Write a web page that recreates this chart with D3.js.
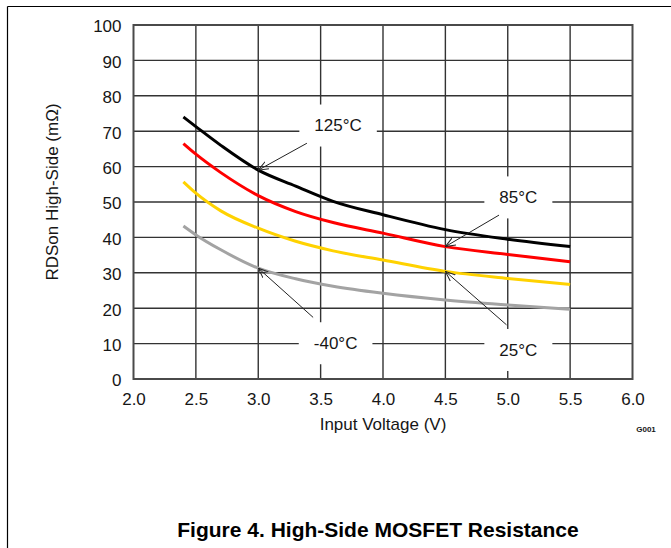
<!DOCTYPE html>
<html lang="en">
<head>
<meta charset="UTF-8">
<title>High-Side MOSFET Resistance</title>
<script src="https://cdn.jsdelivr.net/npm/d3@7"></script>
<style>
    body {
        margin: 0;
        padding: 0;
        background: #fff;
        font-family: "Liberation Sans", Arial, sans-serif;
    }
    svg text { fill: #161616; }
</style>
</head>
<body>
<div id="chart"></div>
<script>
// data
var voltage125 = [2.4, 2.5, 2.7, 3.0, 3.3, 3.6, 4.0, 4.5, 5.0, 5.5];
var rds125     = [74.0, 71.3, 66.0, 59.0, 54.5, 50.2, 46.4, 42.2, 39.5, 37.4];

var voltage85 = [2.4, 2.5, 2.7, 3.0, 3.3, 3.6, 4.0, 4.5, 5.0, 5.5];
var rds85     = [66.5, 63.5, 58.3, 51.8, 47.3, 44.2, 41.2, 37.4, 35.2, 33.1];

var voltage25 = [2.4, 2.5, 2.7, 3.0, 3.3, 3.6, 4.0, 4.5, 5.0, 5.5];
var rds25     = [55.7, 52.5, 47.5, 42.6, 38.9, 36.2, 33.6, 30.4, 28.4, 26.7];

var voltageM40 = [2.4, 2.5, 2.7, 3.0, 3.3, 3.6, 4.0, 4.5, 5.0, 5.5];
var rdsM40     = [43.2, 40.7, 36.5, 31.3, 28.3, 26.2, 24.2, 22.3, 20.9, 19.7];

var xTicks = [2.0, 2.5, 3.0, 3.5, 4.0, 4.5, 5.0, 5.5, 6.0];
var yTicks = [0, 10, 20, 30, 40, 50, 60, 70, 80, 90, 100];

// annotation labels: text position, arrow start, arrow end (data units)
var noteLabels = ["125°C", "85°C", "25°C", "-40°C"];
var noteText   = [[3.64, 71.6], [5.085, 51.3], [5.085, 8.2], [3.62, 10.1]];
var noteFrom   = [[3.39, 66.6], [4.93, 46.3], [4.99, 15.3], [3.44, 17.4]];
var noteTo     = [[3.0, 59.0], [4.5, 37.4], [4.5, 30.4], [3.0, 31.3]];

var series = [
    { name: "125", x: voltage125, y: rds125, color: "#000000" },
    { name: "85",  x: voltage85,  y: rds85,  color: "#ff0000" },
    { name: "25",  x: voltage25,  y: rds25,  color: "#ffd200" },
    { name: "-40", x: voltageM40, y: rdsM40, color: "#a3a3a3" }
];

var W = 671, H = 548;
var svg = d3.select("#chart").append("svg")
    .attr("width", W)
    .attr("height", H);

// page frame (top and left rules)
svg.append("line").attr("x1", 7.5).attr("x2", W).attr("y1", 6.5).attr("y2", 6.5)
    .attr("stroke", "#000").attr("stroke-width", 1.2);
svg.append("line").attr("x1", 7.5).attr("x2", 7.5).attr("y1", 6.5).attr("y2", H)
    .attr("stroke", "#000").attr("stroke-width", 1.2);

var x = d3.scaleLinear().domain([2, 6]).range([133.5, 632.5]);
var y = d3.scaleLinear().domain([0, 100]).range([379, 25]);

// grid
svg.append("g").selectAll("line").data(xTicks.slice(1, -1)).enter().append("line")
    .attr("x1", d => x(d)).attr("x2", d => x(d))
    .attr("y1", y(100)).attr("y2", y(0))
    .attr("stroke", "#333").attr("stroke-width", 1.4);
svg.append("g").selectAll("line").data(yTicks.slice(1, -1)).enter().append("line")
    .attr("x1", x(2)).attr("x2", x(6))
    .attr("y1", d => y(d)).attr("y2", d => y(d))
    .attr("stroke", "#333").attr("stroke-width", 1.4);

// axes (labels only)
var xAxis = svg.append("g")
    .attr("transform", "translate(0," + y(0) + ")")
    .call(d3.axisBottom(x).tickValues(xTicks).tickSize(0).tickPadding(14).tickFormat(d3.format(".1f")));
var yAxis = svg.append("g")
    .attr("transform", "translate(" + x(2) + ",0)")
    .call(d3.axisLeft(y).tickValues(yTicks).tickSize(0).tickPadding(12));
[xAxis, yAxis].forEach(function(a) {
    a.select(".domain").remove();
    a.selectAll("text")
        .attr("font-family", "'Liberation Sans', Arial, sans-serif")
        .attr("font-size", "17px")
        .attr("fill", "#161616");
});
yAxis.selectAll("text").attr("dy", "0.4em");

// annotation boxes (white patches that cut the grid)
var notes = noteLabels.map(function(t, i) {
    return { label: t, tx: noteText[i][0], ty: noteText[i][1],
             fx: noteFrom[i][0], fy: noteFrom[i][1], ex: noteTo[i][0], ey: noteTo[i][1] };
});
var noteG = svg.append("g");
notes.forEach(function(n) {
    var t = noteG.append("text")
        .attr("x", x(n.tx)).attr("y", y(n.ty))
        .attr("dy", "0.35em")
        .attr("text-anchor", "middle")
        .attr("font-size", "17px")
        .text(n.label);
    var b = t.node().getBBox();
    noteG.insert("rect", "text")
        .attr("x", b.x - 15).attr("width", b.width + 30)
        .attr("y", y(n.ty) - 21).attr("height", 42)
        .attr("fill", "#fff");
});

// plot border
svg.append("rect")
    .attr("x", x(2)).attr("y", y(100))
    .attr("width", x(6) - x(2)).attr("height", y(0) - y(100))
    .attr("fill", "none").attr("stroke", "#4a4a4a").attr("stroke-width", 2);

// curves
var line = d3.line()
    .x(d => x(d[0]))
    .y(d => y(d[1]))
    .curve(d3.curveMonotoneX);

svg.append("g").selectAll("path").data(series).enter().append("path")
    .attr("d", s => line(s.x.map((v, i) => [v, s.y[i]])))
    .attr("fill", "none")
    .attr("stroke", s => s.color)
    .attr("stroke-width", 3)
    .attr("stroke-linejoin", "round");

// arrows
svg.append("defs").append("marker")
    .attr("id", "arrow")
    .attr("viewBox", "0 0 10 10")
    .attr("refX", 10).attr("refY", 5)
    .attr("markerWidth", 10).attr("markerHeight", 10)
    .attr("markerUnits", "userSpaceOnUse")
    .attr("orient", "auto")
    .append("path")
    .attr("d", "M0,1 L10,5 L0,9")
    .attr("fill", "none")
    .attr("stroke", "#222")
    .attr("stroke-width", 1);

svg.append("g").selectAll("line").data(notes).enter().append("line")
    .attr("x1", d => x(d.fx)).attr("y1", d => y(d.fy))
    .attr("x2", d => x(d.ex)).attr("y2", d => y(d.ey))
    .attr("stroke", "#222")
    .attr("stroke-width", 1)
    .attr("marker-end", "url(#arrow)");

// axis titles
svg.append("text")
    .attr("x", 383).attr("y", 430)
    .attr("text-anchor", "middle")
    .attr("font-size", "17px")
    .text("Input Voltage (V)");

svg.append("text")
    .attr("transform", "translate(58," + ((y(0) + y(100)) / 2 - 10) + ") rotate(-90)")
    .attr("text-anchor", "middle")
    .attr("font-size", "17px")
    .text("RDSon High-Side (mΩ)");

svg.append("text")
    .attr("x", 646).attr("y", 431.5)
    .attr("text-anchor", "middle")
    .attr("font-size", "8px")
    .attr("font-weight", "bold")
    .attr("fill", "#333")
    .text("G001");

svg.append("text")
    .attr("x", 378).attr("y", 537)
    .attr("text-anchor", "middle")
    .attr("font-size", "21px")
    .attr("font-weight", "bold")
    .style("fill", "#000")
    .text("Figure 4. High-Side MOSFET Resistance");
</script>
</body>
</html>
